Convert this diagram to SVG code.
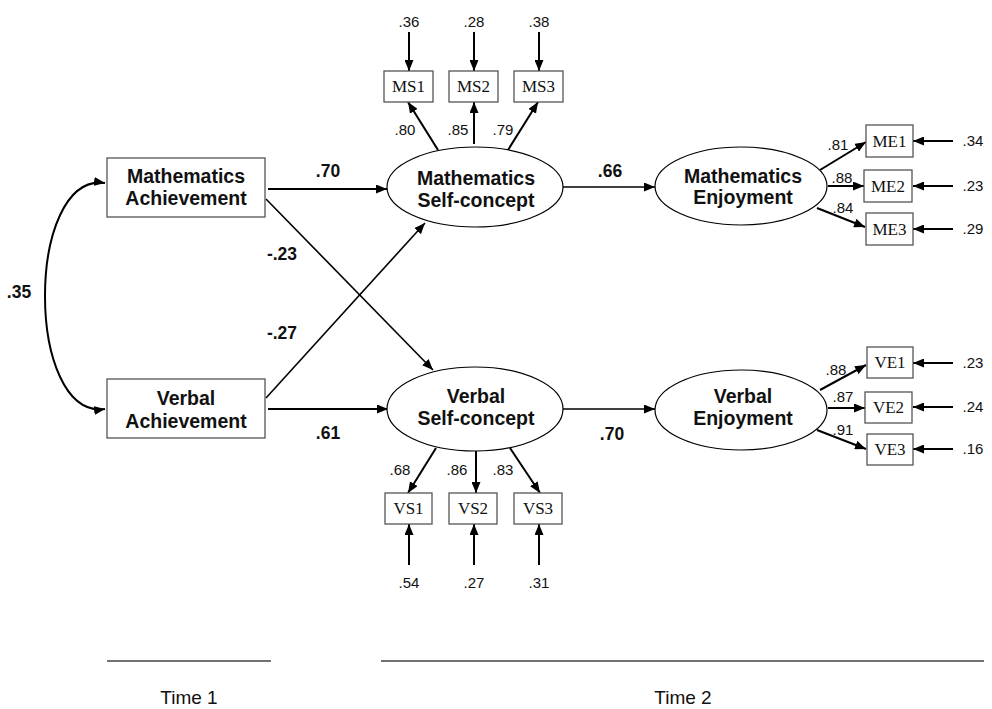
<svg xmlns="http://www.w3.org/2000/svg" width="992" height="709" viewBox="0 0 992 709">
<style>
.box{fill:#fff;stroke:#555;stroke-width:1.3}
.ell{fill:#fff;stroke:#000;stroke-width:1.2}
.nt{font-family:"Liberation Sans",Arial,sans-serif;font-weight:bold;font-size:19.5px;fill:#111;text-anchor:middle}
.it{font-family:"Liberation Serif","Times New Roman",serif;font-size:17px;fill:#111;text-anchor:middle}
.cl{font-family:"Liberation Sans",Arial,sans-serif;font-weight:bold;font-size:17.5px;fill:#111;text-anchor:middle}
.sl{font-family:"Liberation Sans",Arial,sans-serif;font-size:15px;fill:#111;text-anchor:middle}
.tl{font-family:"Liberation Sans",Arial,sans-serif;font-size:19px;fill:#111;text-anchor:middle}
.a{stroke:#000;stroke-width:2;fill:none;marker-end:url(#ah)}
.a2{stroke:#000;stroke-width:1.6;fill:none;marker-end:url(#ah)}
.tline{stroke:#444;stroke-width:1.5}
</style>
<defs>
<marker id="ah" markerUnits="userSpaceOnUse" markerWidth="11" markerHeight="9" refX="11" refY="4.5" orient="auto">
<path d="M0,0 L11,4.5 L0,9 z" fill="#000"/>
</marker>
<marker id="ahs" markerUnits="userSpaceOnUse" markerWidth="11" markerHeight="9" refX="11" refY="4.5" orient="auto-start-reverse">
<path d="M0,0 L11,4.5 L0,9 z" fill="#000"/>
</marker>
</defs>

<g id="connectors">
<path d="M105,183 C25,172 25,420 105,409" stroke="#000" stroke-width="2" fill="none" marker-start="url(#ahs)" marker-end="url(#ahs)"/>
<line class="a" x1="268" y1="189" x2="387" y2="189"/>
<line class="a" x1="268" y1="409" x2="388" y2="409"/>
<line class="a2" x1="266" y1="199" x2="433" y2="370"/>
<line class="a2" x1="266" y1="398" x2="425" y2="223"/>
<line class="a2" x1="563" y1="187" x2="655" y2="187"/>
<line class="a2" x1="563" y1="409" x2="655" y2="409"/>
<line class="a" x1="409" y1="32" x2="409" y2="71"/>
<line class="a" x1="474" y1="32" x2="474" y2="71"/>
<line class="a" x1="539" y1="32" x2="539" y2="71"/>
<line class="a" x1="438" y1="150" x2="408" y2="102"/>
<line class="a" x1="474" y1="144" x2="474" y2="102"/>
<line class="a" x1="508" y1="150" x2="538" y2="102"/>
<line class="a" x1="436" y1="448" x2="408" y2="493"/>
<line class="a" x1="476" y1="451" x2="476" y2="493"/>
<line class="a" x1="510" y1="448" x2="540" y2="493"/>
<line class="a" x1="409" y1="565" x2="409" y2="524"/>
<line class="a" x1="474" y1="565" x2="474" y2="524"/>
<line class="a" x1="539" y1="565" x2="539" y2="524"/>
<line class="a" x1="820" y1="170" x2="866" y2="142"/>
<line class="a" x1="828" y1="186" x2="864" y2="186"/>
<line class="a" x1="817" y1="208" x2="865" y2="227"/>
<line class="a" x1="953" y1="141" x2="913" y2="141"/>
<line class="a" x1="953" y1="186" x2="913" y2="186"/>
<line class="a" x1="953" y1="229" x2="913" y2="229"/>
<line class="a" x1="820" y1="390" x2="866" y2="365"/>
<line class="a" x1="828" y1="408" x2="865" y2="408"/>
<line class="a" x1="817" y1="430" x2="866" y2="449"/>
<line class="a" x1="953" y1="363" x2="913" y2="363"/>
<line class="a" x1="953" y1="407" x2="913" y2="407"/>
<line class="a" x1="953" y1="449" x2="913" y2="449"/>
</g>

<g id="labels">
<text class="cl" x="328" y="177">.70</text>
<text class="cl" x="282" y="260">-.23</text>
<text class="cl" x="282" y="339">-.27</text>
<text class="cl" x="328" y="439">.61</text>
<text class="cl" x="19" y="298">.35</text>
<text class="cl" x="610" y="177">.66</text>
<text class="cl" x="612" y="440">.70</text>
<text class="sl" x="409" y="27">.36</text>
<text class="sl" x="474" y="27">.28</text>
<text class="sl" x="539" y="27">.38</text>
<text class="sl" x="405" y="135">.80</text>
<text class="sl" x="458" y="135">.85</text>
<text class="sl" x="503" y="135">.79</text>
<text class="sl" x="400" y="475">.68</text>
<text class="sl" x="457" y="475">.86</text>
<text class="sl" x="503" y="475">.83</text>
<text class="sl" x="409" y="588">.54</text>
<text class="sl" x="474" y="588">.27</text>
<text class="sl" x="539" y="588">.31</text>
<text class="sl" x="838" y="150">.81</text>
<text class="sl" x="842" y="183">.88</text>
<text class="sl" x="843" y="213">.84</text>
<text class="sl" x="973" y="146">.34</text>
<text class="sl" x="973" y="191">.23</text>
<text class="sl" x="973" y="234">.29</text>
<text class="sl" x="836" y="375">.88</text>
<text class="sl" x="843" y="402">.87</text>
<text class="sl" x="843" y="435">.91</text>
<text class="sl" x="973" y="368">.23</text>
<text class="sl" x="973" y="412">.24</text>
<text class="sl" x="973" y="454">.16</text>
</g>

<g id="mathAch"><rect class="box" x="107" y="158" width="158" height="59"/><text class="nt" x="186" y="183">Mathematics</text><text class="nt" x="186" y="205">Achievement</text></g>
<g id="verbAch"><rect class="box" x="107" y="379" width="158" height="59"/><text class="nt" x="186" y="405">Verbal</text><text class="nt" x="186" y="428">Achievement</text></g>
<g id="mathSC"><ellipse class="ell" cx="475" cy="187" rx="88" ry="40"/><text class="nt" x="476" y="185">Mathematics</text><text class="nt" x="476" y="207">Self-concept</text></g>
<g id="verbSC"><ellipse class="ell" cx="475" cy="409" rx="88" ry="42"/><text class="nt" x="476" y="403">Verbal</text><text class="nt" x="476" y="425">Self-concept</text></g>
<g id="mathEnj"><ellipse class="ell" cx="741" cy="186" rx="86" ry="39"/><text class="nt" x="743" y="183">Mathematics</text><text class="nt" x="743" y="204">Enjoyment</text></g>
<g id="verbEnj"><ellipse class="ell" cx="741" cy="410" rx="86" ry="40"/><text class="nt" x="743" y="403">Verbal</text><text class="nt" x="743" y="425">Enjoyment</text></g>

<g id="MS1"><rect class="box" x="384" y="71" width="49" height="31"/><text class="it" x="408.5" y="92">MS1</text></g>
<g id="MS2"><rect class="box" x="449" y="71" width="49" height="31"/><text class="it" x="473.5" y="92">MS2</text></g>
<g id="MS3"><rect class="box" x="514" y="71" width="49" height="31"/><text class="it" x="538.5" y="92">MS3</text></g>
<g id="VS1"><rect class="box" x="385" y="493" width="47" height="31"/><text class="it" x="408.5" y="514">VS1</text></g>
<g id="VS2"><rect class="box" x="449" y="493" width="48" height="31"/><text class="it" x="473" y="514">VS2</text></g>
<g id="VS3"><rect class="box" x="514" y="493" width="48" height="31"/><text class="it" x="538" y="514">VS3</text></g>
<g id="ME1"><rect class="box" x="866" y="125" width="47" height="32"/><text class="it" x="889.5" y="146.5">ME1</text></g>
<g id="ME2"><rect class="box" x="864" y="170" width="48" height="32"/><text class="it" x="888" y="191.5">ME2</text></g>
<g id="ME3"><rect class="box" x="866" y="213" width="47" height="32"/><text class="it" x="889.5" y="234.5">ME3</text></g>
<g id="VE1"><rect class="box" x="867" y="347" width="46" height="31"/><text class="it" x="890" y="368">VE1</text></g>
<g id="VE2"><rect class="box" x="865" y="392" width="47" height="31"/><text class="it" x="888.5" y="413">VE2</text></g>
<g id="VE3"><rect class="box" x="867" y="434" width="46" height="31"/><text class="it" x="890" y="455">VE3</text></g>

<g id="timeline">
<line class="tline" x1="107" y1="661" x2="271" y2="661"/>
<line class="tline" x1="381" y1="661" x2="984" y2="661"/>
<text class="tl" x="189" y="704">Time 1</text>
<text class="tl" x="683" y="704">Time 2</text>
</g>
</svg>
